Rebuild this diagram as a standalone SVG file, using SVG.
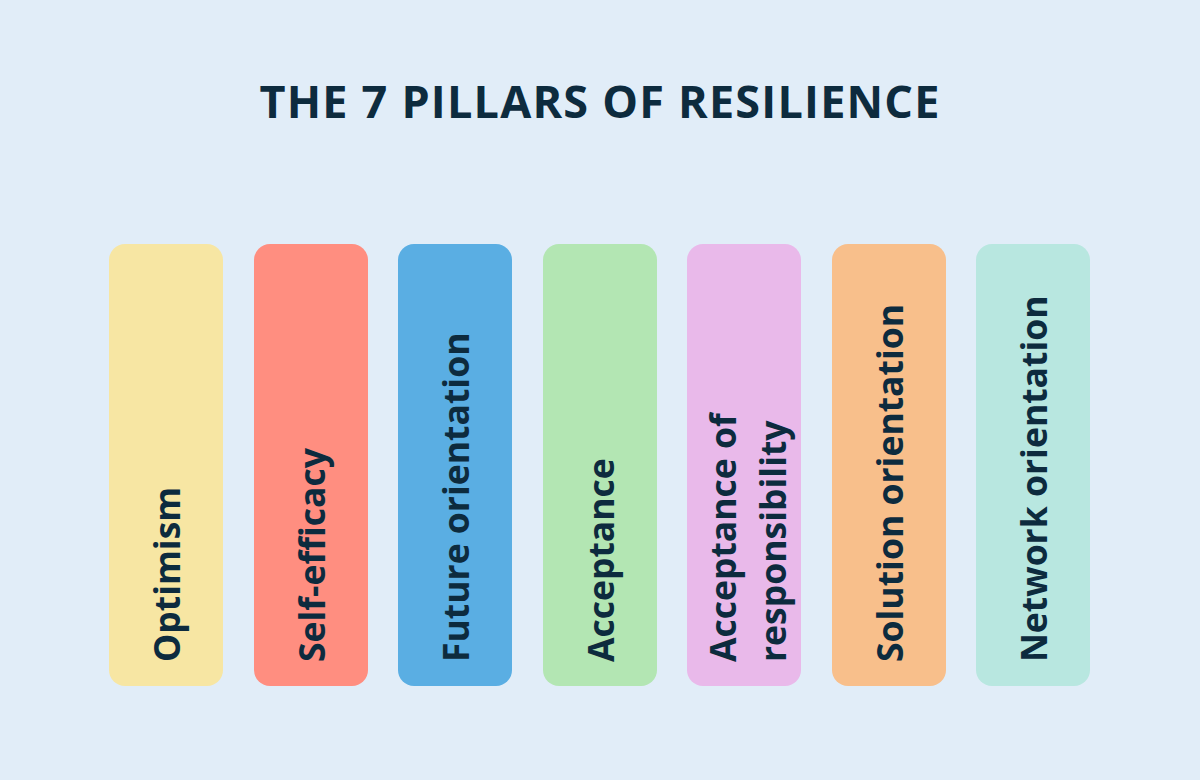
<svg xmlns="http://www.w3.org/2000/svg" width="1200" height="780" viewBox="0 0 1200 780">
<style>
.t{font-family:"Open Sans",Lato,sans-serif;font-weight:bold;font-size:35.5px;fill:#0D2B3E}
.h{font-family:"Open Sans",Lato,sans-serif;font-weight:bold;font-size:45px;fill:#0D2B3E;letter-spacing:1.2px}
</style>
<rect width="1200" height="780" fill="#E1EDF8"/>
<text class="h" x="600" y="118" text-anchor="middle">THE 7 PILLARS OF RESILIENCE</text>
<g id="n1"><rect x="109" y="244" width="114" height="442" rx="16" fill="#F7E6A3"/><text class="t" transform="translate(180,662) rotate(-90)">Optimism</text></g>
<g id="n2"><rect x="254" y="244" width="114" height="442" rx="16" fill="#FF8E80"/><text class="t" transform="translate(325,662) rotate(-90)">Self-efficacy</text></g>
<g id="n3"><rect x="398" y="244" width="114" height="442" rx="16" fill="#5AAEE3"/><text class="t" transform="translate(469,662) rotate(-90)">Future orientation</text></g>
<g id="n4"><rect x="543" y="244" width="114" height="442" rx="16" fill="#B3E6B3"/><text class="t" transform="translate(614,662) rotate(-90)">Acceptance</text></g>
<g id="n5"><rect x="687" y="244" width="114" height="442" rx="16" fill="#E9B9EA"/><text class="t" transform="translate(736,662) rotate(-90)">Acceptance of</text><text class="t" transform="translate(786,662) rotate(-90)">responsibility</text></g>
<g id="n6"><rect x="832" y="244" width="114" height="442" rx="16" fill="#F8BF8B"/><text class="t" transform="translate(903,662) rotate(-90)">Solution orientation</text></g>
<g id="n7"><rect x="976" y="244" width="114" height="442" rx="16" fill="#B8E7E0"/><text class="t" transform="translate(1047,662) rotate(-90)">Network orientation</text></g>
<g id="connectors"/>
</svg>
